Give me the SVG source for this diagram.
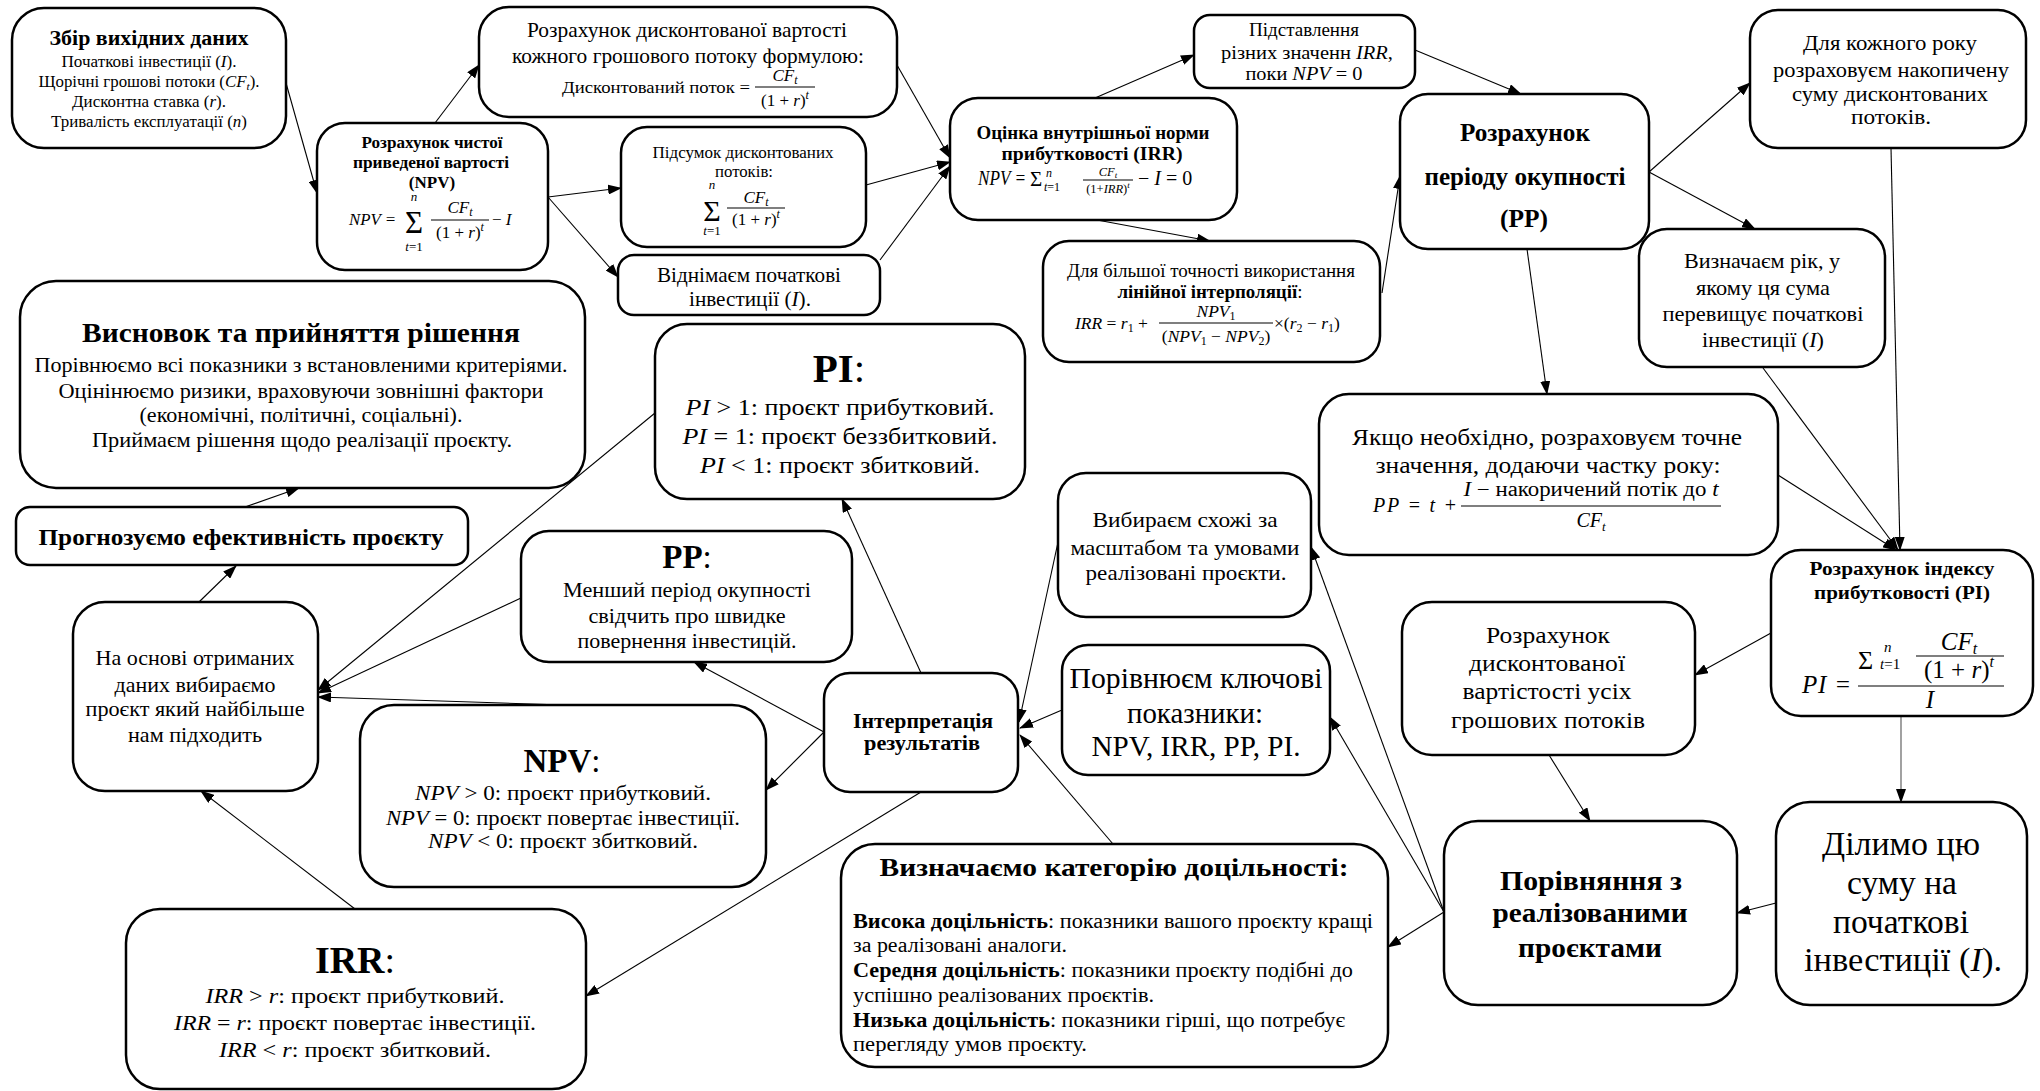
<svg xmlns="http://www.w3.org/2000/svg" width="2040" height="1091" viewBox="0 0 2040 1091" font-family="Liberation Serif, Times New Roman, serif">
<defs>
<style>
.n{fill:#fff;stroke:#000;stroke-width:2.5}
.t{fill:#000}
.c{text-anchor:middle}
.b{font-weight:bold}
.i{font-style:italic}
.e line{stroke:#000;stroke-width:1.1;marker-end:url(#a)}
.fl{stroke:#000;stroke-width:1.2}
</style>
<marker id="a" markerUnits="userSpaceOnUse" markerWidth="14" markerHeight="10" refX="13" refY="5" orient="auto">
<path d="M0,0 L14,5 L0,10 z" fill="#000"/>
</marker>
</defs>
<rect width="2040" height="1091" fill="#fff"/>

<g id="edges" class="e">
<line x1="286" y1="83" x2="317" y2="193"/>
<line x1="435" y1="123" x2="479" y2="65"/>
<line x1="548" y1="197" x2="621" y2="188"/>
<line x1="548" y1="197" x2="618" y2="277"/>
<line x1="897" y1="65" x2="950" y2="158"/>
<line x1="866" y1="185" x2="950" y2="162"/>
<line x1="880" y1="260" x2="950" y2="166"/>
<line x1="1095" y1="98" x2="1194" y2="55"/>
<line x1="1097" y1="220" x2="1210" y2="241"/>
<line x1="1415" y1="50" x2="1521" y2="94"/>
<line x1="1382" y1="293" x2="1400" y2="176"/>
<line x1="1649" y1="172" x2="1750" y2="83"/>
<line x1="1649" y1="172" x2="1755" y2="229"/>
<line x1="1527" y1="249" x2="1547" y2="394"/>
<line x1="1891" y1="148" x2="1900" y2="550"/>
<line x1="1763" y1="368" x2="1898" y2="550"/>
<line x1="1778" y1="475" x2="1896" y2="550"/>
<line x1="1771" y1="633" x2="1695" y2="675"/>
<line x1="1901" y1="716" x2="1901" y2="802" style="stroke:#555"/>
<line x1="1549" y1="755" x2="1590" y2="821"/>
<line x1="1776" y1="903" x2="1737" y2="913"/>
<line x1="1444" y1="912" x2="1388" y2="947"/>
<line x1="1444" y1="912" x2="1330" y2="717"/>
<line x1="1444" y1="912" x2="1311" y2="547"/>
<line x1="1060" y1="533" x2="1019" y2="722"/>
<line x1="1062" y1="710" x2="1020" y2="728"/>
<line x1="1113" y1="844" x2="1020" y2="735"/>
<line x1="921" y1="673" x2="842" y2="499"/>
<line x1="824" y1="732" x2="694" y2="662"/>
<line x1="824" y1="732" x2="766" y2="790"/>
<line x1="921" y1="792" x2="586" y2="996"/>
<line x1="655" y1="413" x2="318" y2="690"/>
<line x1="521" y1="598" x2="318" y2="693"/>
<line x1="563" y1="705" x2="318" y2="697"/>
<line x1="355" y1="909" x2="201" y2="791"/>
<line x1="199" y1="602" x2="236" y2="566"/>
<line x1="245" y1="507" x2="299" y2="488"/>
</g>

<g id="n1">
<rect class="n" x="12" y="8" width="274" height="140" rx="32"/>
<text class="t c b" x="149" y="45" font-size="20" textLength="199" lengthAdjust="spacingAndGlyphs">Збір вихідних даних</text>
<text class="t c" x="149" y="67" font-size="16" textLength="175" lengthAdjust="spacingAndGlyphs">Початкові інвестиції (<tspan class="i">I</tspan>).</text>
<text class="t c" x="149" y="87" font-size="16" textLength="221" lengthAdjust="spacingAndGlyphs">Щорічні грошові потоки (<tspan class="i">CF<tspan font-size="11" dy="3">t</tspan></tspan><tspan dy="-3">).</tspan></text>
<text class="t c" x="149" y="107" font-size="16" textLength="154" lengthAdjust="spacingAndGlyphs">Дисконтна ставка (<tspan class="i">r</tspan>).</text>
<text class="t c" x="149" y="127" font-size="16" textLength="196" lengthAdjust="spacingAndGlyphs">Тривалість експлуатації (<tspan class="i">n</tspan>)</text>
</g>

<g id="n2">
<rect class="n" x="479" y="7" width="418" height="110" rx="30"/>
<text class="t c" x="687" y="37" font-size="21.5" textLength="320" lengthAdjust="spacingAndGlyphs">Розрахунок дисконтованої вартості</text>
<text class="t c" x="688" y="63" font-size="21.5" textLength="352" lengthAdjust="spacingAndGlyphs">кожного грошового потоку формулою:</text>
<text class="t" x="562" y="93" font-size="17" textLength="188" lengthAdjust="spacingAndGlyphs">Дисконтований поток =</text>
<text class="t c i" x="785" y="81" font-size="17">CF<tspan font-size="12" dy="3">t</tspan></text>
<line class="fl" x1="755" y1="87" x2="815" y2="87"/>
<text class="t c" x="785" y="106" font-size="17">(1 + <tspan class="i">r</tspan>)<tspan class="i" font-size="12" dy="-7">t</tspan></text>
</g>

<g id="n3">
<rect class="n" x="317" y="123" width="231" height="147" rx="28"/>
<text class="t c b" x="432" y="148" font-size="17" textLength="141" lengthAdjust="spacingAndGlyphs">Розрахунок чистої</text>
<text class="t c b" x="431" y="168" font-size="17" textLength="156" lengthAdjust="spacingAndGlyphs">приведеної вартості</text>
<text class="t c b" x="432" y="188" font-size="17">(NPV)</text>
<text class="t i" x="349" y="225" font-size="16.5" textLength="47" lengthAdjust="spacingAndGlyphs">NPV =</text>
<text class="t c" x="414" y="233" font-size="31">Σ</text>
<text class="t c i" x="414" y="201" font-size="13">n</text>
<text class="t c" x="414" y="251" font-size="13"><tspan class="i">t</tspan>=1</text>
<text class="t c i" x="460" y="213" font-size="17">CF<tspan font-size="12" dy="3">t</tspan></text>
<line class="fl" x1="431" y1="220" x2="489" y2="220"/>
<text class="t c" x="460" y="238" font-size="17">(1 + <tspan class="i">r</tspan>)<tspan class="i" font-size="12" dy="-7">t</tspan></text>
<text class="t" x="492" y="225" font-size="17">− <tspan class="i">I</tspan></text>
</g>

<g id="n4">
<rect class="n" x="621" y="127" width="245" height="120" rx="26"/>
<text class="t c" x="743" y="158" font-size="17" textLength="181" lengthAdjust="spacingAndGlyphs">Підсумок дисконтованих</text>
<text class="t c" x="744" y="177" font-size="17" textLength="58" lengthAdjust="spacingAndGlyphs">потоків:</text>
<text class="t c" x="712" y="221" font-size="30">Σ</text>
<text class="t c i" x="712" y="189" font-size="13">n</text>
<text class="t c" x="712" y="235" font-size="13"><tspan class="i">t</tspan>=1</text>
<text class="t c i" x="756" y="203" font-size="17">CF<tspan font-size="12" dy="3">t</tspan></text>
<line class="fl" x1="727" y1="208" x2="785" y2="208"/>
<text class="t c" x="756" y="225" font-size="17">(1 + <tspan class="i">r</tspan>)<tspan class="i" font-size="12" dy="-7">t</tspan></text>
</g>

<g id="n5">
<rect class="n" x="618" y="255" width="262" height="60" rx="16"/>
<text class="t c" x="749" y="282" font-size="21" textLength="184" lengthAdjust="spacingAndGlyphs">Віднімаєм початкові</text>
<text class="t c" x="750" y="306" font-size="21" textLength="122" lengthAdjust="spacingAndGlyphs">інвестиції (<tspan class="i">I</tspan>).</text>
</g>

<g id="n6">
<rect class="n" x="950" y="98" width="287" height="122" rx="28"/>
<text class="t c b" x="1093" y="139" font-size="18.5" textLength="233" lengthAdjust="spacingAndGlyphs">Оцінка внутрішньої норми</text>
<text class="t c b" x="1092" y="160" font-size="18.5" textLength="181" lengthAdjust="spacingAndGlyphs">прибутковості (IRR)</text>
<text class="t i" x="978" y="185" font-size="20" textLength="48" lengthAdjust="spacingAndGlyphs">NPV =</text>
<text class="t" x="1030" y="186" font-size="21">Σ</text>
<text class="t i" x="1046" y="177" font-size="12">n</text>
<text class="t" x="1044" y="191" font-size="12"><tspan class="i">t</tspan>=1</text>
<text class="t c i" x="1108" y="176" font-size="12.5">CF<tspan font-size="9" dy="2">t</tspan></text>
<line class="fl" x1="1083" y1="180" x2="1133" y2="180"/>
<text class="t c" x="1108" y="193" font-size="12.5">(1+<tspan class="i">IRR</tspan>)<tspan class="i" font-size="9" dy="-5">t</tspan></text>
<text class="t" x="1138" y="185" font-size="20">− <tspan class="i">I</tspan> = 0</text>
</g>

<g id="n7">
<rect class="n" x="1194" y="15" width="221" height="73" rx="16"/>
<text class="t c" x="1304" y="36" font-size="19.5" textLength="110" lengthAdjust="spacingAndGlyphs">Підставлення</text>
<text class="t c" x="1307" y="59" font-size="19.5" textLength="172" lengthAdjust="spacingAndGlyphs">різних значенн <tspan class="i">IRR</tspan>,</text>
<text class="t c" x="1304" y="80" font-size="19.5" textLength="117" lengthAdjust="spacingAndGlyphs">поки <tspan class="i">NPV</tspan> = 0</text>
</g>

<g id="n8">
<rect class="n" x="1043" y="241" width="337" height="121" rx="26"/>
<text class="t c" x="1211" y="277" font-size="18.5" textLength="288" lengthAdjust="spacingAndGlyphs">Для більшої точності використання</text>
<text class="t c" x="1210" y="298" font-size="18.5" textLength="185" lengthAdjust="spacingAndGlyphs"><tspan class="b">лінійної інтерполяції</tspan>:</text>
<text class="t" x="1075" y="329" font-size="17.5"><tspan class="i">IRR</tspan> = <tspan class="i">r</tspan><tspan font-size="12" dy="3">1</tspan><tspan dy="-3"> +</tspan></text>
<text class="t c i" x="1216" y="317" font-size="17.5">NPV<tspan font-size="12" dy="3" font-style="normal">1</tspan></text>
<line class="fl" x1="1159" y1="323" x2="1273" y2="323"/>
<text class="t c" x="1216" y="342" font-size="17.5">(<tspan class="i">NPV</tspan><tspan font-size="12" dy="3">1</tspan><tspan dy="-3"> − </tspan><tspan class="i">NPV</tspan><tspan font-size="12" dy="3">2</tspan><tspan dy="-3">)</tspan></text>
<text class="t" x="1274" y="329" font-size="17.5">×(<tspan class="i">r</tspan><tspan font-size="12" dy="3">2</tspan><tspan dy="-3"> − </tspan><tspan class="i">r</tspan><tspan font-size="12" dy="3">1</tspan><tspan dy="-3">)</tspan></text>
</g>

<g id="n9">
<rect class="n" x="1400" y="94" width="249" height="155" rx="28"/>
<text class="t c b" x="1525" y="141" font-size="25" textLength="130" lengthAdjust="spacingAndGlyphs">Розрахунок</text>
<text class="t c b" x="1525" y="185" font-size="25" textLength="201" lengthAdjust="spacingAndGlyphs">періоду окупності</text>
<text class="t c b" x="1524" y="227" font-size="25" textLength="48" lengthAdjust="spacingAndGlyphs">(PP)</text>
</g>

<g id="n10">
<rect class="n" x="1750" y="10" width="276" height="138" rx="28"/>
<text class="t c" x="1890" y="50" font-size="22" textLength="174" lengthAdjust="spacingAndGlyphs">Для кожного року</text>
<text class="t c" x="1891" y="77" font-size="22" textLength="236" lengthAdjust="spacingAndGlyphs">розраховуєм накопичену</text>
<text class="t c" x="1890" y="101" font-size="22" textLength="196" lengthAdjust="spacingAndGlyphs">суму дисконтованих</text>
<text class="t c" x="1891" y="124" font-size="22" textLength="80" lengthAdjust="spacingAndGlyphs">потоків.</text>
</g>

<g id="n11">
<rect class="n" x="1639" y="229" width="246" height="138" rx="28"/>
<text class="t c" x="1762" y="268" font-size="22" textLength="156" lengthAdjust="spacingAndGlyphs">Визначаєм рік, у</text>
<text class="t c" x="1763" y="295" font-size="22" textLength="134" lengthAdjust="spacingAndGlyphs">якому ця сума</text>
<text class="t c" x="1763" y="321" font-size="22" textLength="201" lengthAdjust="spacingAndGlyphs">перевищує початкові</text>
<text class="t c" x="1763" y="347" font-size="22" textLength="122" lengthAdjust="spacingAndGlyphs">інвестиції (<tspan class="i">I</tspan>)</text>
</g>

<g id="n12">
<rect class="n" x="1319" y="394" width="459" height="161" rx="30"/>
<text class="t c" x="1547" y="445" font-size="23" textLength="390" lengthAdjust="spacingAndGlyphs">Якщо необхідно, розраховуєм точне</text>
<text class="t c" x="1548" y="473" font-size="23" textLength="345" lengthAdjust="spacingAndGlyphs">значення, додаючи частку року:</text>
<text class="t i" x="1373" y="512" font-size="20" textLength="84" lengthAdjust="spacing">PP = t +</text>
<text class="t c" x="1591" y="496" font-size="20" textLength="255" lengthAdjust="spacingAndGlyphs"><tspan class="i">I</tspan> − накоричений потік до <tspan class="i">t</tspan></text>
<line class="fl" x1="1461" y1="506" x2="1721" y2="506"/>
<text class="t c i" x="1591" y="527" font-size="20">CF<tspan font-size="13" dy="4">t</tspan></text>
</g>

<g id="n13">
<rect class="n" x="1771" y="550" width="262" height="166" rx="30"/>
<text class="t c b" x="1902" y="575" font-size="18.5" textLength="185" lengthAdjust="spacingAndGlyphs">Розрахунок індексу</text>
<text class="t c b" x="1902" y="599" font-size="18.5" textLength="176" lengthAdjust="spacingAndGlyphs">прибутковості (PI)</text>
<text class="t i" x="1802" y="693" font-size="25" textLength="49" lengthAdjust="spacing">PI =</text>
<text class="t" x="1858" y="669" font-size="26">Σ</text>
<text class="t i" x="1884" y="652" font-size="15">n</text>
<text class="t" x="1880" y="669" font-size="15"><tspan class="i">t</tspan>=1</text>
<text class="t c i" x="1959" y="650" font-size="25">CF<tspan font-size="16" dy="4">t</tspan></text>
<line class="fl" x1="1916" y1="656" x2="2004" y2="656"/>
<text class="t c" x="1959" y="678" font-size="25">(1 + <tspan class="i">r</tspan>)<tspan class="i" font-size="16" dy="-11">t</tspan></text>
<line class="fl" x1="1858" y1="686" x2="2004" y2="686"/>
<text class="t c i" x="1930" y="708" font-size="25">I</text>
</g>

<g id="n14">
<rect class="n" x="1402" y="602" width="293" height="153" rx="30"/>
<text class="t c" x="1548" y="643" font-size="23" textLength="124" lengthAdjust="spacingAndGlyphs">Розрахунок</text>
<text class="t c" x="1547" y="671" font-size="23" textLength="156" lengthAdjust="spacingAndGlyphs">дисконтованої</text>
<text class="t c" x="1547" y="699" font-size="23" textLength="169" lengthAdjust="spacingAndGlyphs">вартістості усіх</text>
<text class="t c" x="1548" y="728" font-size="23" textLength="194" lengthAdjust="spacingAndGlyphs">грошових потоків</text>
</g>

<g id="n15">
<rect class="n" x="1776" y="802" width="251" height="203" rx="34"/>
<text class="t c" x="1901" y="855" font-size="33" textLength="158" lengthAdjust="spacingAndGlyphs">Ділимо цю</text>
<text class="t c" x="1902" y="894" font-size="33" textLength="110" lengthAdjust="spacingAndGlyphs">суму на</text>
<text class="t c" x="1901" y="933" font-size="33" textLength="136" lengthAdjust="spacingAndGlyphs">початкові</text>
<text class="t c" x="1903" y="971" font-size="33" textLength="198" lengthAdjust="spacingAndGlyphs">інвестиції (<tspan class="i">I</tspan>).</text>
</g>

<g id="n16">
<rect class="n" x="1444" y="821" width="293" height="184" rx="34"/>
<text class="t c b" x="1591" y="890" font-size="28" textLength="182" lengthAdjust="spacingAndGlyphs">Порівняння з</text>
<text class="t c b" x="1590" y="922" font-size="28" textLength="195" lengthAdjust="spacingAndGlyphs">реалізованими</text>
<text class="t c b" x="1590" y="957" font-size="28" textLength="144" lengthAdjust="spacingAndGlyphs">проєктами</text>
</g>

<g id="n17">
<rect class="n" x="1058" y="473" width="253" height="144" rx="28"/>
<text class="t c" x="1185" y="527" font-size="22" textLength="185" lengthAdjust="spacingAndGlyphs">Вибираєм схожі за</text>
<text class="t c" x="1185" y="555" font-size="22" textLength="229" lengthAdjust="spacingAndGlyphs">масштабом та умовами</text>
<text class="t c" x="1186" y="580" font-size="22" textLength="201" lengthAdjust="spacingAndGlyphs">реалізовані проєкти.</text>
</g>

<g id="n18">
<rect class="n" x="1062" y="645" width="268" height="130" rx="26"/>
<text class="t c" x="1196" y="688" font-size="30" textLength="253" lengthAdjust="spacingAndGlyphs">Порівнюєм ключові</text>
<text class="t c" x="1195" y="723" font-size="30" textLength="136" lengthAdjust="spacingAndGlyphs">показники:</text>
<text class="t c" x="1196" y="756" font-size="30" textLength="209" lengthAdjust="spacingAndGlyphs">NPV, IRR, PP, PI.</text>
</g>

<g id="n19">
<rect class="n" x="841" y="844" width="547" height="223" rx="34"/>
<text class="t c b" x="1114" y="876" font-size="26" textLength="469" lengthAdjust="spacingAndGlyphs">Визначаємо категорію доцільності:</text>
<text class="t" x="853" y="928" font-size="20.5" textLength="520" lengthAdjust="spacingAndGlyphs"><tspan class="b">Висока доцільність</tspan>: показники вашого проєкту кращі</text>
<text class="t" x="853" y="952" font-size="20.5" textLength="214" lengthAdjust="spacingAndGlyphs">за реалізовані аналоги.</text>
<text class="t" x="853" y="977" font-size="20.5" textLength="500" lengthAdjust="spacingAndGlyphs"><tspan class="b">Середня доцільність</tspan>: показники проєкту подібні до</text>
<text class="t" x="853" y="1002" font-size="20.5" textLength="301" lengthAdjust="spacingAndGlyphs">успішно реалізованих проєктів.</text>
<text class="t" x="853" y="1027" font-size="20.5" textLength="492" lengthAdjust="spacingAndGlyphs"><tspan class="b">Низька доцільність</tspan>: показники гірші, що потребує</text>
<text class="t" x="853" y="1051" font-size="20.5" textLength="234" lengthAdjust="spacingAndGlyphs">перегляду умов проєкту.</text>
</g>

<g id="n20">
<rect class="n" x="824" y="673" width="194" height="119" rx="26"/>
<text class="t c b" x="923" y="728" font-size="21" textLength="140" lengthAdjust="spacingAndGlyphs">Інтерпретація</text>
<text class="t c b" x="922" y="750" font-size="21" textLength="116" lengthAdjust="spacingAndGlyphs">результатів</text>
</g>

<g id="n21">
<rect class="n" x="655" y="324" width="370" height="175" rx="32"/>
<text class="t c" x="839" y="382" font-size="41"><tspan class="b">PI</tspan>:</text>
<text class="t c" x="840" y="415" font-size="24" textLength="309" lengthAdjust="spacingAndGlyphs"><tspan class="i">PI</tspan> &gt; 1: проєкт прибутковий.</text>
<text class="t c" x="840" y="444" font-size="24" textLength="315" lengthAdjust="spacingAndGlyphs"><tspan class="i">PI</tspan> = 1: проєкт беззбитковий.</text>
<text class="t c" x="840" y="473" font-size="24" textLength="280" lengthAdjust="spacingAndGlyphs"><tspan class="i">PI</tspan> &lt; 1: проєкт збитковий.</text>
</g>

<g id="n22">
<rect class="n" x="521" y="531" width="331" height="131" rx="28"/>
<text class="t c" x="687" y="568" font-size="33"><tspan class="b">PP</tspan>:</text>
<text class="t c" x="687" y="597" font-size="22" textLength="248" lengthAdjust="spacingAndGlyphs">Менший період окупності</text>
<text class="t c" x="687" y="623" font-size="22" textLength="197" lengthAdjust="spacingAndGlyphs">свідчить про швидке</text>
<text class="t c" x="687" y="648" font-size="22" textLength="219" lengthAdjust="spacingAndGlyphs">повернення інвестицій.</text>
</g>

<g id="n23">
<rect class="n" x="360" y="705" width="406" height="182" rx="34"/>
<text class="t c" x="562" y="772" font-size="33"><tspan class="b">NPV</tspan>:</text>
<text class="t c" x="563" y="800" font-size="21.5" textLength="296" lengthAdjust="spacingAndGlyphs"><tspan class="i">NPV</tspan> &gt; 0: проєкт прибутковий.</text>
<text class="t c" x="563" y="825" font-size="21.5" textLength="354" lengthAdjust="spacingAndGlyphs"><tspan class="i">NPV</tspan> = 0: проєкт повертає інвестиції.</text>
<text class="t c" x="563" y="848" font-size="21.5" textLength="270" lengthAdjust="spacingAndGlyphs"><tspan class="i">NPV</tspan> &lt; 0: проєкт збитковий.</text>
</g>

<g id="n24">
<rect class="n" x="126" y="909" width="460" height="180" rx="34"/>
<text class="t c" x="355" y="973" font-size="38"><tspan class="b">IRR</tspan>:</text>
<text class="t c" x="355" y="1003" font-size="22" textLength="299" lengthAdjust="spacingAndGlyphs"><tspan class="i">IRR</tspan> &gt; <tspan class="i">r</tspan>: проєкт прибутковий.</text>
<text class="t c" x="355" y="1030" font-size="22" textLength="362" lengthAdjust="spacingAndGlyphs"><tspan class="i">IRR</tspan> = <tspan class="i">r</tspan>: проєкт повертає інвестиції.</text>
<text class="t c" x="355" y="1057" font-size="22" textLength="272" lengthAdjust="spacingAndGlyphs"><tspan class="i">IRR</tspan> &lt; <tspan class="i">r</tspan>: проєкт збитковий.</text>
</g>

<g id="n25">
<rect class="n" x="73" y="602" width="245" height="189" rx="32"/>
<text class="t c" x="195" y="665" font-size="22" textLength="199" lengthAdjust="spacingAndGlyphs">На основі отриманих</text>
<text class="t c" x="195" y="692" font-size="22" textLength="161" lengthAdjust="spacingAndGlyphs">даних вибираємо</text>
<text class="t c" x="195" y="716" font-size="22" textLength="219" lengthAdjust="spacingAndGlyphs">проєкт який найбільше</text>
<text class="t c" x="195" y="742" font-size="22" textLength="134" lengthAdjust="spacingAndGlyphs">нам підходить</text>
</g>

<g id="n26">
<rect class="n" x="16" y="507" width="452" height="58" rx="14"/>
<text class="t c b" x="241" y="545" font-size="24" textLength="405" lengthAdjust="spacingAndGlyphs">Прогнозуємо ефективність проєкту</text>
</g>

<g id="n27">
<rect class="n" x="20" y="281" width="565" height="207" rx="36"/>
<text class="t c b" x="301" y="342" font-size="28" textLength="438" lengthAdjust="spacingAndGlyphs">Висновок та прийняття рішення</text>
<text class="t c" x="301" y="372" font-size="22" textLength="533" lengthAdjust="spacingAndGlyphs">Порівнюємо всі показники з встановленими критеріями.</text>
<text class="t c" x="301" y="398" font-size="22" textLength="485" lengthAdjust="spacingAndGlyphs">Оцінінюємо ризики, враховуючи зовнішні фактори</text>
<text class="t c" x="301" y="422" font-size="22" textLength="323" lengthAdjust="spacingAndGlyphs">(економічні, політичні, соціальні).</text>
<text class="t c" x="302" y="447" font-size="22" textLength="420" lengthAdjust="spacingAndGlyphs">Приймаєм рішення щодо реалізації проєкту.</text>
</g>
</svg>
